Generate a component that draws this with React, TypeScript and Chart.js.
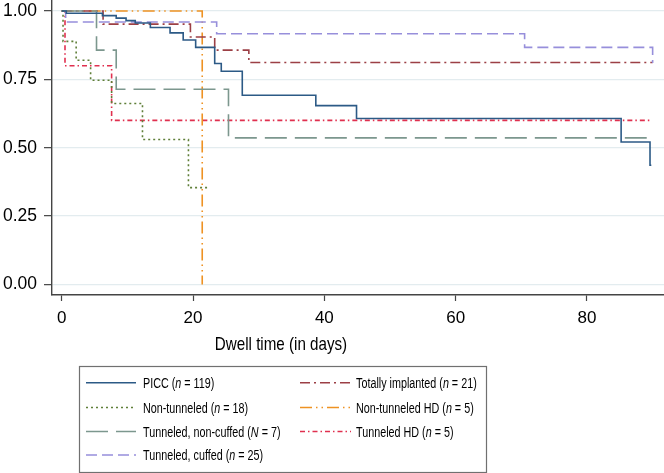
import React, { useEffect, useRef } from "react";
import { Chart, registerables } from "chart.js";

Chart.register(...registerables);

// ---- data ----
const xTicks = [0, 20, 40, 60, 80];
const yTicks = [0, 0.25, 0.5, 0.75, 1];

const piccDays = [0, 0.7, 6.2, 8.3, 9.8, 11.2, 13.5, 16.5, 18.5, 20.4, 23.3, 24.3, 27.5, 38.7, 44.9, 85.2, 89.6, 89.8];
const piccSurv = [1, 0.992, 0.983, 0.974, 0.965, 0.956, 0.94, 0.92, 0.894, 0.867, 0.808, 0.78, 0.692, 0.654, 0.607, 0.521, 0.436, 0.436];

const nonTunDays = [0, 0.2, 2.2, 4.4, 7.6, 12.3, 19.3, 22.4];
const nonTunSurv = [1, 0.889, 0.82, 0.747, 0.662, 0.53, 0.354, 0.354];

const tunNonCuffDays = [0, 5.3, 8.3, 25.4, 89.1];
const tunNonCuffSurv = [1, 0.857, 0.714, 0.536, 0.536];

const tunCuffDays = [0, 0.6, 23.6, 70.5, 90.0];
const tunCuffSurv = [1, 0.96, 0.917, 0.867, 0.81];

const implDays = [0, 6.3, 19.6, 23.3, 28.5, 90.0];
const implSurv = [1, 0.952, 0.905, 0.857, 0.812, 0.812];

const nonTunHdDays = [0, 21.4];
const nonTunHdSurv = [1, 0];

const tunHdDays = [0, 0.5, 7.6, 89.6];
const tunHdSurv = [1, 0.8, 0.6, 0.6];

const labels = [
  "PICC (n = 119)",
  "Non-tunneled (n = 18)",
  "Tunneled, non-cuffed (N = 7)",
  "Tunneled, cuffed (n = 25)",
  "Totally implanted (n = 21)",
  "Non-tunneled HD (n = 5)",
  "Tunneled HD (n = 5)",
];

const colors = ["#2c5a86", "#5f7f38", "#7c978e", "#978fdb", "#9c3f45", "#ee9223", "#e0304f"];
const dashes: number[][] = [[], [2, 3], [22, 8], [11, 5], [10, 4, 2, 4], [12, 4, 1.5, 4, 1.5, 4], [5, 3, 1.5, 3]];

const legendCol = [0, 0, 0, 0, 1, 1, 1];
const legendRow = [0, 1, 2, 3, 0, 1, 2];

const toPts = (d: number[], s: number[]) => d.map((x, i) => ({ x, y: s[i] }));
const seriesData = [
  toPts(piccDays, piccSurv),
  toPts(nonTunDays, nonTunSurv),
  toPts(tunNonCuffDays, tunNonCuffSurv),
  toPts(tunCuffDays, tunCuffSurv),
  toPts(implDays, implSurv),
  toPts(nonTunHdDays, nonTunHdSurv),
  toPts(tunHdDays, tunHdSurv),
];

const SANS = "'Liberation Sans', Arial, sans-serif";

// draw horizontally condensed text (the reference uses a condensed face)
function narrowText(ctx: CanvasRenderingContext2D, t: string, x: number, y: number, sx: number) {
  ctx.save();
  ctx.translate(x, y);
  ctx.scale(sx, 1);
  ctx.fillText(t, 0, 0);
  ctx.restore();
  return ctx.measureText(t).width * sx;
}

const extras = {
  id: "extras",
  afterDraw(chart: any) {
    const ctx: CanvasRenderingContext2D = chart.ctx;
    ctx.save();
    // axis title
    ctx.fillStyle = "#000";
    ctx.textAlign = "left";
    ctx.textBaseline = "alphabetic";
    ctx.font = `18.5px ${SANS}`;
    const title = "Dwell time (in days)";
    const tw = ctx.measureText(title).width * 0.82;
    narrowText(ctx, title, 281 - tw / 2, 350, 0.82);

    // legend box
    ctx.strokeStyle = "#707070";
    ctx.lineWidth = 1.2;
    ctx.strokeRect(79.5, 366.5, 407, 106);

    const colLine = [[86, 136], [300, 351]];
    const colText = [143, 356];
    const rowLine = [382.7, 407.5, 431.5, 455];
    chart.data.datasets.forEach((ds: any, i: number) => {
      const c = legendCol[i];
      const r = legendRow[i];
      const y = rowLine[r];
      ctx.save();
      ctx.strokeStyle = ds.borderColor;
      ctx.lineWidth = ds.borderWidth;
      ctx.setLineDash(ds.borderDash || []);
      ctx.beginPath();
      ctx.moveTo(colLine[c][0], y);
      ctx.lineTo(colLine[c][1], y);
      ctx.stroke();
      ctx.restore();

      const text: string = ds.label;
      const m = text.match(/^(.*\()([nN])( = .*)$/);
      let x = colText[c];
      const base = y + 5;
      const parts: [string, boolean][] = m ? [[m[1], false], [m[2], true], [m[3], false]] : [[text, false]];
      parts.forEach(([t, it]) => {
        ctx.font = `${it ? "italic " : ""}14px ${SANS}`;
        x += narrowText(ctx, t, x, base, 0.77);
      });
    });
    ctx.restore();
  },
};

export default function App() {
  const ref = useRef<HTMLCanvasElement | null>(null);

  useEffect(() => {
    document.body.style.margin = "0";
    const canvas = ref.current!;
    const chart = new Chart(canvas, {
      type: "line",
      data: {
        datasets: seriesData.map((d, i) => ({
          label: labels[i],
          data: d,
          borderColor: colors[i],
          backgroundColor: colors[i],
          borderWidth: 1.6,
          borderDash: dashes[i],
          stepped: true,
          pointRadius: 0,
          fill: false,
        })),
      },
      options: {
        responsive: false,
        animation: false,
        events: [],
        layout: { padding: { left: 0, right: 0, top: 0, bottom: 138 } },
        plugins: {
          legend: { display: false },
          tooltip: { enabled: false },
          title: { display: false },
        },
        scales: {
          x: {
            type: "linear",
            min: -1.48,
            max: 91.73,
            afterBuildTicks: (s: any) => {
              s.ticks = xTicks.map((v) => ({ value: v }));
            },
            afterFit: (s: any) => {
              s.height = 40;
              s.paddingLeft = 0;
              s.paddingRight = 0;
            },
            ticks: {
              color: "#000",
              font: { family: SANS, size: 17 },
              padding: 7,
              maxRotation: 0,
              autoSkip: false,
              callback: (v: any) => String(v),
            },
            grid: { drawOnChartArea: false, drawTicks: true, tickLength: 6, tickColor: "#444", tickWidth: 1.2 },
            border: { display: true, color: "#444", width: 1.4 },
          },
          y: {
            type: "linear",
            min: -0.0385,
            max: 1.0403,
            afterBuildTicks: (s: any) => {
              s.ticks = yTicks.map((v) => ({ value: v }));
            },
            afterFit: (s: any) => {
              s.width = 52;
              s.paddingTop = 0;
              s.paddingBottom = 0;
            },
            ticks: {
              color: "#000",
              font: { family: SANS, size: 17.5 },
              padding: 7,
              autoSkip: false,
              callback: (v: any) => Number(v).toFixed(2),
            },
            grid: { color: "#e3ecef", lineWidth: 1.3, drawTicks: true, tickLength: 8, tickColor: "#444", tickWidth: 1.2 },
            border: { display: true, color: "#444", width: 1.4 },
          },
        },
      },
      plugins: [extras],
    } as any);
    return () => chart.destroy();
  }, []);

  return (
    <div style={{ position: "absolute", left: 0, top: 0, width: 664, height: 473, background: "#fff" }}>
      <canvas ref={ref} width={664} height={473} style={{ display: "block" }} />
    </div>
  );
}
